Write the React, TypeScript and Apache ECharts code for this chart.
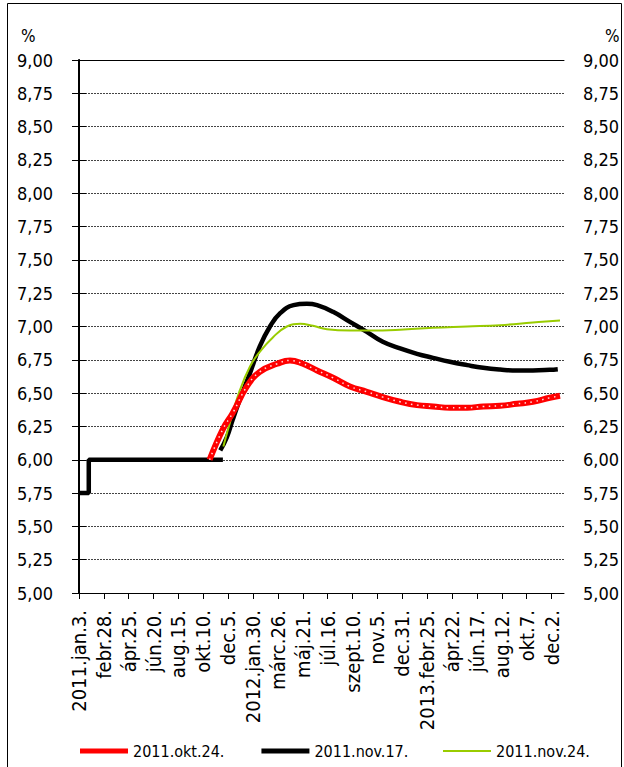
import React, { useEffect, useRef } from "react";
import * as echarts from "echarts";

// x-axis tick dates and their labels
const TICK_DATES = [
  "2011-01-03", "2011-02-28", "2011-04-25", "2011-06-20", "2011-08-15", "2011-10-10", "2011-12-05",
  "2012-01-30", "2012-03-26", "2012-05-21", "2012-07-16", "2012-09-10", "2012-11-05", "2012-12-31",
  "2013-02-25", "2013-04-22", "2013-06-17", "2013-08-12", "2013-10-07", "2013-12-02",
];
const TICK_LABELS = [
  "2011.jan.3.", "febr.28.", "ápr.25.", "jún.20.", "aug.15.", "okt.10.", "dec.5.",
  "2012.jan.30.", "márc.26.", "máj.21.", "júl.16.", "szept.10.", "nov.5.", "dec.31.",
  "2013.febr.25.", "ápr.22.", "jún.17.", "aug.12.", "okt.7.", "dec.2.",
];
const AXIS_START = "2011-01-03";
const AXIS_END = "2013-12-30";

// historical policy rate
const HIST_DATES = ["2011-01-03", "2011-01-25", "2011-01-25", "2011-11-23"];
const HIST_VALUES = [5.75, 5.75, 6.0, 6.0];

// 2011.okt.24.
const RED_DATES = [
  "2011-10-24", "2011-11-23", "2011-12-15", "2012-01-16", "2012-02-14", "2012-03-24", "2012-04-22",
  "2012-05-21", "2012-06-22", "2012-07-28", "2012-09-04", "2012-10-12", "2012-11-17", "2012-12-26",
  "2013-02-02", "2013-03-10", "2013-04-17", "2013-05-26", "2013-07-01", "2013-08-08", "2013-09-15",
  "2013-10-21", "2013-11-28", "2013-12-21",
];
const RED_VALUES = [
  6.0, 6.23, 6.35, 6.55, 6.66, 6.72, 6.745,
  6.72, 6.67, 6.615, 6.55, 6.51, 6.47, 6.435,
  6.41, 6.4, 6.39, 6.39, 6.4, 6.405, 6.42,
  6.435, 6.465, 6.48,
];

// 2011.nov.17.
const BLACK_DATES = [
  "2011-11-17", "2011-12-02", "2011-12-15", "2011-12-31", "2012-01-23", "2012-02-14", "2012-03-08",
  "2012-03-31", "2012-04-30", "2012-05-30", "2012-06-22", "2012-07-28", "2012-09-04", "2012-10-12",
  "2012-11-17", "2012-12-26", "2013-02-02", "2013-03-10", "2013-04-17", "2013-05-26", "2013-07-01",
  "2013-08-08", "2013-09-15", "2013-10-21", "2013-11-28", "2013-12-16",
];
const BLACK_VALUES = [
  6.07, 6.17, 6.3, 6.45, 6.65, 6.85, 7.0,
  7.1, 7.16, 7.17, 7.16, 7.11, 7.035, 6.96,
  6.885, 6.835, 6.795, 6.765, 6.735, 6.71, 6.69,
  6.677, 6.67, 6.67, 6.675, 6.68,
];

// 2011.nov.24.
const GREEN_DATES = [
  "2011-11-24", "2011-12-09", "2011-12-31", "2012-01-23", "2012-02-14", "2012-03-15", "2012-04-15",
  "2012-05-15", "2012-06-13", "2012-07-14", "2012-09-04", "2012-10-12", "2012-11-17", "2012-12-26",
  "2013-03-10", "2013-05-26", "2013-08-08", "2013-10-21", "2013-12-21",
];
const GREEN_VALUES = [
  6.1, 6.28, 6.52, 6.7, 6.81, 6.92, 7.0,
  7.02, 7.005, 6.98, 6.97, 6.97, 6.97, 6.975,
  6.99, 7.0, 7.01, 7.03, 7.045,
];

const FONT = "'DejaVu Sans Condensed', 'DejaVu Sans', sans-serif";

const day = (s: string) => Math.round((Date.parse(s) - Date.parse(AXIS_START)) / 86400000);
const pairs = (d: string[], v: number[]) => d.map((s, i) => [day(s), v[i]]);

export default function App() {
  const ref = useRef<HTMLDivElement>(null);
  useEffect(() => {
    if (!ref.current) return;
    const chart = echarts.init(ref.current, null, { renderer: "svg" });
    const tickDays = TICK_DATES.map(day);
    const fmtY = (v: number) => v.toFixed(2).replace(".", ",");
    const yBase = {
      type: "value",
      min: 5,
      max: 9,
      interval: 0.25,
      axisLine: { show: true, lineStyle: { color: "#000", width: 1 } },
      axisTick: { show: true, inside: false, length: 7, lineStyle: { color: "#000" } },
      axisLabel: { formatter: fmtY, color: "#000", fontFamily: FONT, fontSize: 18 },
    };
    const legendText = { color: "#000", fontFamily: FONT, fontSize: 16 };
    chart.setOption({
      animation: false,
      backgroundColor: "#fff",
      grid: { left: 79, top: 60, width: 485, height: 533 },
      graphic: [
        {
          type: "rect",
          shape: { x: 7.5, y: 3.5, width: 614, height: 800 },
          style: { fill: "none", stroke: "#000", lineWidth: 1 },
          silent: true,
        },
        { type: "text", left: 21, top: 27, style: { text: "%", font: `17px ${FONT}`, fill: "#000" } },
        { type: "text", left: 605, top: 27, style: { text: "%", font: `17px ${FONT}`, fill: "#000" } },
      ],
      legend: [
        {
          left: 80,
          top: 743,
          padding: 0,
          itemGap: 37,
          itemWidth: 48,
          itemHeight: 5,
          icon: "rect",
          data: ["2011.okt.24.", "2011.nov.17."],
          textStyle: legendText,
        },
        {
          left: 443,
          top: 743,
          padding: 0,
          itemWidth: 48,
          itemHeight: 2,
          icon: "rect",
          data: ["2011.nov.24."],
          textStyle: legendText,
        },
      ],
      xAxis: [
        {
          type: "value",
          min: 0,
          max: day(AXIS_END),
          axisLine: { show: true, lineStyle: { color: "#000", width: 1 } },
          axisTick: { show: true, length: 6, customValues: tickDays, lineStyle: { color: "#000" } },
          axisLabel: {
            customValues: tickDays,
            rotate: 90,
            margin: 17,
            color: "#000",
            fontFamily: FONT,
            fontSize: 20,
            formatter: (v: number) => {
              const i = tickDays.indexOf(v);
              return i >= 0 ? TICK_LABELS[i] : "";
            },
          },
          splitLine: { show: false },
        },
        {
          type: "value",
          position: "top",
          min: 0,
          max: day(AXIS_END),
          axisLine: { show: true, lineStyle: { color: "#000", width: 1 } },
          axisTick: { show: false },
          axisLabel: { show: false },
          splitLine: { show: false },
        },
      ],
      yAxis: [
        {
          ...yBase,
          position: "left",
          axisLine: { show: true, lineStyle: { color: "#000", width: 2 } },
          axisLabel: { ...yBase.axisLabel, margin: 26 },
          splitLine: { show: true, lineStyle: { color: "#444", width: 1, type: [2, 1] } },
        },
        {
          ...yBase,
          position: "right",
          axisLabel: { ...yBase.axisLabel, margin: 19 },
          splitLine: { show: false },
        },
      ],
      series: [
        {
          name: "hist",
          type: "line",
          data: pairs(HIST_DATES, HIST_VALUES),
          symbol: "none",
          lineStyle: { color: "#000", width: 4.5 },
          z: 2,
        },
        {
          name: "2011.nov.17.",
          type: "line",
          data: pairs(BLACK_DATES, BLACK_VALUES),
          smooth: 0.45,
          symbol: "none",
          itemStyle: { color: "#000" },
          lineStyle: { color: "#000", width: 4.5 },
          z: 3,
        },
        {
          name: "2011.nov.24.",
          type: "line",
          data: pairs(GREEN_DATES, GREEN_VALUES),
          smooth: 0.45,
          symbol: "none",
          itemStyle: { color: "#99cc00" },
          lineStyle: { color: "#99cc00", width: 2 },
          z: 4,
        },
        {
          name: "2011.okt.24.",
          type: "line",
          data: pairs(RED_DATES, RED_VALUES),
          smooth: 0.45,
          symbol: "none",
          itemStyle: { color: "#ff0000" },
          lineStyle: { color: "#ff0000", width: 6 },
          z: 5,
        },
        {
          name: "okt-dots",
          type: "line",
          data: pairs(RED_DATES, RED_VALUES),
          smooth: 0.45,
          symbol: "none",
          lineStyle: { color: "#ffdede", width: 1.5, type: [1.5, 4.5] },
          z: 6,
        },
      ],
    });
    return () => chart.dispose();
  }, []);
  return (
    <div
      ref={ref}
      style={{ position: "fixed", left: 0, top: 0, width: 624, height: 767, background: "#fff" }}
    />
  );
}
